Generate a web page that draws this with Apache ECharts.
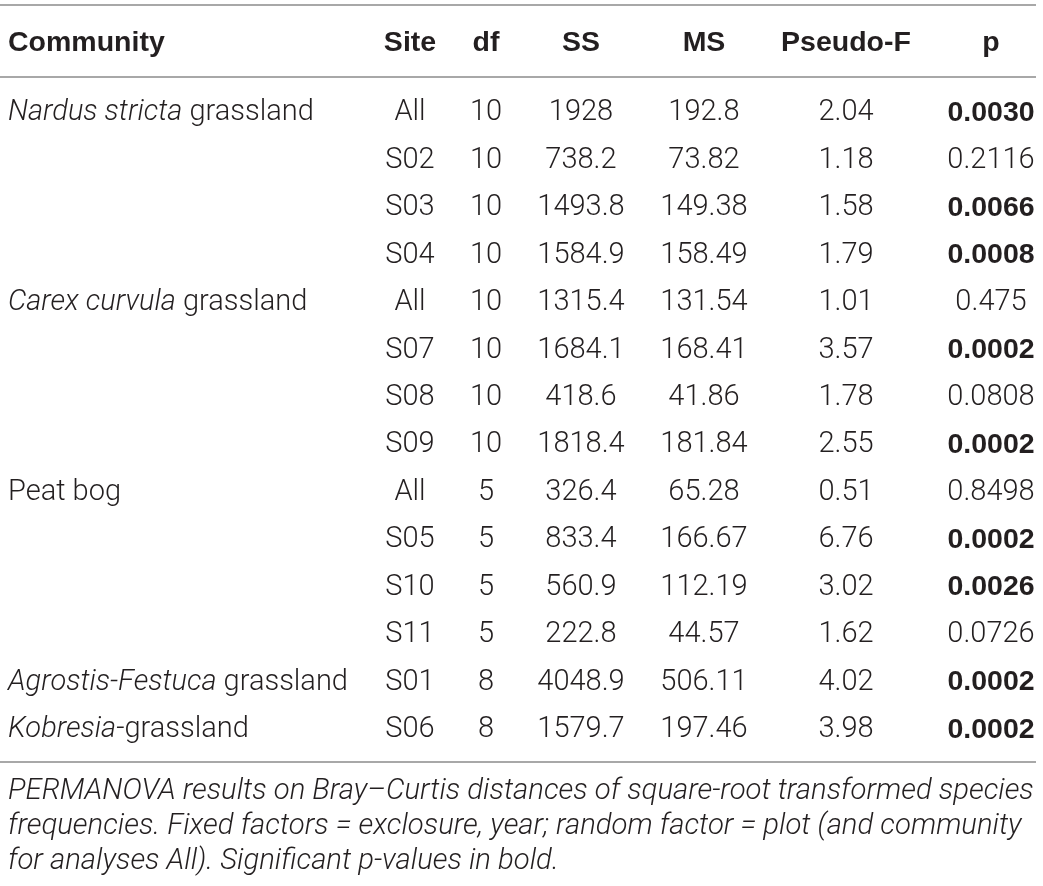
<!DOCTYPE html>
<html>
<head>
<meta charset="utf-8">
<script src="https://cdn.jsdelivr.net/npm/echarts@6/dist/echarts.min.js"></script>
<style>
  html, body { margin: 0; padding: 0; background: #fff; }
  #main { width: 1043px; height: 886px; }
</style>
</head>
<body>
<div id="main"></div>
<script>
// 表格数据
var headers = ['Community', 'Site', 'df', 'SS', 'MS', 'Pseudo-F', 'p'];
var communities = ['{i|Nardus stricta} grassland', '', '', '', '{i|Carex curvula} grassland', '', '', '',
  'Peat bog', '', '', '', '{i|Agrostis-Festuca} grassland', '{i|Kobresia}-grassland'];
var sites = ['All', 'S02', 'S03', 'S04', 'All', 'S07', 'S08', 'S09', 'All', 'S05', 'S10', 'S11', 'S01', 'S06'];
var dfs = ['10', '10', '10', '10', '10', '10', '10', '10', '5', '5', '5', '5', '8', '8'];
var ss = ['1928', '738.2', '1493.8', '1584.9', '1315.4', '1684.1', '418.6', '1818.4', '326.4', '833.4', '560.9', '222.8', '4048.9', '1579.7'];
var ms = ['192.8', '73.82', '149.38', '158.49', '131.54', '168.41', '41.86', '181.84', '65.28', '166.67', '112.19', '44.57', '506.11', '197.46'];
var pseudoF = ['2.04', '1.18', '1.58', '1.79', '1.01', '3.57', '1.78', '2.55', '0.51', '6.76', '3.02', '1.62', '4.02', '3.98'];
var pValues = ['0.0030', '0.2116', '0.0066', '0.0008', '0.475', '0.0002', '0.0808', '0.0002', '0.8498', '0.0002', '0.0026', '0.0726', '0.0002', '0.0002'];
var caption = [
  'PERMANOVA results on Bray\u2013Curtis distances of square-root transformed species',
  'frequencies. Fixed factors = exclosure, year; random factor = plot (and community',
  'for analyses All). Significant p-values in bold.'
];

// 版式
var colX = [8, 410, 486, 581, 704, 846, 991];
var colAlign = ['left', 'center', 'center', 'center', 'center', 'center', 'center'];
var headerRow = -1.433;
var rules = [-2.191, -0.674, 13.759];
var textDy = 4;
var textColor = '#231f20';
var bodyFont = 'Roboto, "Liberation Sans", sans-serif';
var headFont = '"Liberation Sans", Arial, sans-serif';

var columns = [communities, sites, dfs, ss, ms, pseudoF, pValues];
var cells = [];
var cellData = [];
headers.forEach(function (h, c) {
  cells.push({ text: h, bold: true });
  cellData.push([colX[c], headerRow, c]);
});
for (var r = 0; r < sites.length; r++) {
  for (var c = 0; c < columns.length; c++) {
    var t = columns[c][r];
    if (!t) continue;
    // p < 0.05 加粗
    var bold = c === 6 && parseFloat(t) < 0.05;
    cells.push({ text: t, bold: bold });
    cellData.push([colX[c], r, c]);
  }
}

var chart = echarts.init(document.getElementById('main'));
chart.setOption({
  animation: false,
  grid: { left: 0, top: 0, width: 1036, height: 886 },
  xAxis: { type: 'value', min: 0, max: 1036, show: false },
  yAxis: { type: 'value', inverse: true, min: -2.297, max: 16.371, show: false },
  series: [{
    type: 'custom',
    data: cellData,
    renderItem: function (params, api) {
      var cell = cells[params.dataIndex];
      var col = api.value(2);
      var pt = api.coord([api.value(0), api.value(1)]);
      var isHead = api.value(1) < 0;
      return {
        type: 'text',
        x: pt[0],
        y: pt[1] + (isHead ? 2 : textDy),
        style: {
          text: cell.text,
          align: colAlign[col],
          verticalAlign: 'middle',
          fill: textColor,
          fontSize: cell.bold ? 28.5 : 29,
          fontFamily: cell.bold ? headFont : bodyFont,
          fontWeight: cell.bold ? 'bold' : 300,
          rich: {
            i: { fontStyle: 'italic', fontSize: 29, fontFamily: bodyFont, fontWeight: 300, fill: textColor }
          }
        }
      };
    },
    markLine: {
      silent: true,
      symbol: 'none',
      label: { show: false },
      lineStyle: { color: '#a8a8a8', width: 2, type: 'solid' },
      data: rules.map(function (v) { return { yAxis: v }; })
    }
  }],
  graphic: [{
    type: 'text',
    left: 8,
    top: 774,
    style: {
      text: caption.join('\n'),
      fontSize: 29.3,
      lineHeight: 35,
      fontStyle: 'italic',
      fontWeight: 300,
      fontFamily: bodyFont,
      fill: textColor
    }
  }]
});
</script>
</body>
</html>
